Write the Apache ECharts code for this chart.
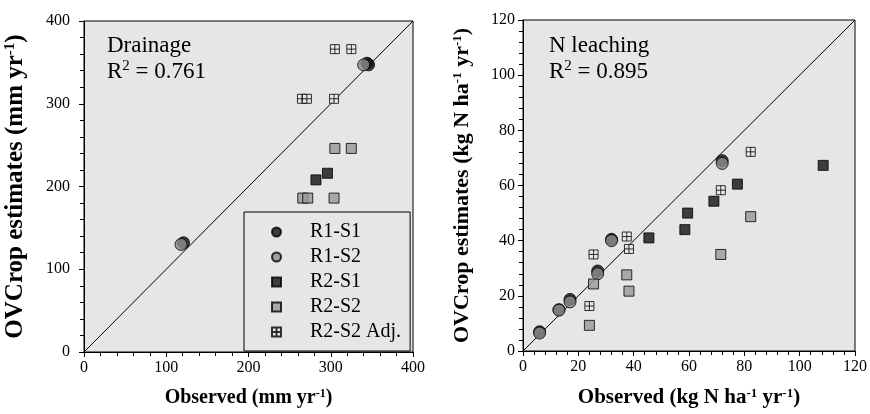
<!DOCTYPE html>
<html><head><meta charset="utf-8">
<script src="https://cdn.jsdelivr.net/npm/echarts@6/dist/echarts.min.js"></script>
<style>html,body{margin:0;padding:0;background:#fff}#c{width:870px;height:414px}</style>
</head><body><div id="c"></div>
<script>
// ---- data ----
const legendNames = ['R1-S1', 'R1-S2', 'R2-S1', 'R2-S2', 'R2-S2 Adj.'];
// Drainage (mm/yr): [observed, OVCrop estimate]
const drainR1S1 = [[344, 349], [346, 347], [121, 132]];
const drainR1S2 = [[340, 347], [118, 130]];
const drainR2S1 = [[282, 208], [296, 216]];
const drainR2S2 = [[305, 246], [325, 246], [266, 186], [272, 186], [304, 186]];
const drainR2S2Adj = [[305, 366], [325, 366], [265, 306], [271, 306], [304, 306]];
const drainOneToOne = [[0, 0], [400, 400]];
// N leaching (kg N/ha/yr)
const nR1S1 = [[6, 7], [13, 15], [17, 18.7], [27, 29], [32, 40.5], [72, 69]];
const nR1S2 = [[6, 6.5], [13, 14.8], [17, 17.8], [27, 28], [32, 40], [72, 68]];
const nR2S1 = [[45.5, 41], [58.5, 44], [59.5, 50], [69, 54.3], [77.5, 60.5], [108.5, 67.3]];
const nR2S2 = [[25.5, 24.3], [24, 9.3], [37.5, 27.6], [38.3, 21.7], [71.5, 35], [82.3, 48.7]];
const nR2S2Adj = [[25.5, 35], [24, 16.3], [37.5, 41.5], [38.3, 37], [71.5, 58.3], [82.3, 72.2]];
const nOneToOne = [[0, 0], [120, 120]];
const drainTicks = {min: 0, max: 400, interval: 100};
const nTicks = {min: 0, max: 120, interval: 20};

// ---- style ----
const FONT = 'Liberation Serif';
const BG = '#e6e6e6';
const ADJ = 'path://M0,0L10,0L10,10L0,10Z M5,0L5,10 M0,5L10,5';
const styles = {
  'R1-S1': {symbol: 'circle', symbolSize: 12, itemStyle: {color: '#111', borderColor: '#000', borderWidth: 1}},
  'R1-S2': {symbol: 'circle', symbolSize: 12, itemStyle: {color: '#8c8c8c', borderColor: '#000', borderWidth: 1}},
  'R2-S1': {symbol: 'rect', symbolSize: 10, itemStyle: {color: '#111', borderColor: '#000', borderWidth: 1}},
  'R2-S2': {symbol: 'rect', symbolSize: 10, itemStyle: {color: '#999', borderColor: '#000', borderWidth: 1}},
  'R2-S2 Adj.': {symbol: ADJ, symbolSize: 9, itemStyle: {color: '#e8e8e8', borderColor: '#000', borderWidth: 1}}
};
const sets = [
  [drainR1S1, drainR1S2, drainR2S1, drainR2S2, drainR2S2Adj],
  [nR1S1, nR1S2, nR2S1, nR2S2, nR2S2Adj]
];
const supRich = (fs, bold) => ({sup: {fontSize: fs, fontFamily: FONT, fontWeight: bold ? 'bold' : 'normal', verticalAlign: 'top', color: '#000'}});

function xAxis(gi, t, name, fs) {
  return {
    gridIndex: gi, type: 'value', min: t.min, max: t.max, interval: t.interval,
    axisLine: {onZero: false, lineStyle: {color: '#000', width: 1}},
    axisTick: {length: 5, lineStyle: {color: '#000'}},
    minorTick: {show: true, splitNumber: 5, length: 4, lineStyle: {color: '#000'}},
    splitLine: {show: false},
    axisLabel: {fontFamily: FONT, fontSize: 16, color: '#000', margin: 8},
    name: name, nameLocation: 'middle', nameGap: 36,
    nameTextStyle: {fontFamily: FONT, fontSize: fs, fontWeight: 'bold', color: '#000', rich: supRich(Math.round(fs * 0.62), true)}
  };
}
function yAxis(gi, t, name, margin, gap, fs) {
  return {
    gridIndex: gi, type: 'value', min: t.min, max: t.max, interval: t.interval,
    axisLine: {onZero: false, lineStyle: {color: '#000', width: 1}},
    axisTick: {length: 5, lineStyle: {color: '#000'}},
    minorTick: {show: true, splitNumber: 5, length: 4, lineStyle: {color: '#000'}},
    splitLine: {show: false},
    axisLabel: {fontFamily: FONT, fontSize: 16, color: '#000', margin: margin},
    name: name, nameLocation: 'middle', nameGap: gap, nameRotate: 90,
    nameTextStyle: {fontFamily: FONT, fontSize: fs, fontWeight: 'bold', color: '#000', rich: supRich(Math.round(fs * 0.6), true)}
  };
}

const series = [];
[drainOneToOne, nOneToOne].forEach((d, gi) => {
  series.push({type: 'line', xAxisIndex: gi, yAxisIndex: gi, data: d, symbol: 'none', silent: true,
    lineStyle: {color: '#000', width: 1}, z: 1});
});
sets.forEach((arrs, gi) => {
  arrs.forEach((d, i) => {
    const n = legendNames[i];
    series.push(Object.assign({type: 'scatter', name: n, xAxisIndex: gi, yAxisIndex: gi, data: d, z: 3}, styles[n]));
  });
});

const chart = echarts.init(document.getElementById('c'), null, {renderer: 'canvas'});
chart.setOption({
  animation: false,
  backgroundColor: '#fff',
  grid: [
    {left: 84, top: 21, width: 329, height: 331, show: true, backgroundColor: BG, borderColor: '#000', borderWidth: 1},
    {left: 523, top: 20, width: 332, height: 331, show: true, backgroundColor: BG, borderColor: '#000', borderWidth: 1}
  ],
  xAxis: [xAxis(0, drainTicks, 'Observed (mm yr{sup|-1})', 20), xAxis(1, nTicks, 'Observed (kg N ha{sup|-1} yr{sup|-1})', 21)],
  yAxis: [yAxis(0, drainTicks, 'OVCrop estimates (mm yr{sup|-1})', 14, 56, 25),
          yAxis(1, nTicks, 'OVCrop estimates (kg N ha{sup|-1} yr{sup|-1})', 8, 50, 22)],
  legend: {
    data: legendNames, orient: 'vertical', left: 244, top: 212,
    padding: [10, 9, 9, 27], itemWidth: 9, itemHeight: 9, itemGap: 5,
    backgroundColor: BG, borderColor: '#000', borderWidth: 1,
    textStyle: {fontFamily: FONT, fontSize: 20, lineHeight: 18, color: '#000', padding: [0, 0, 0, 24]},
    selectedMode: false
  },
  graphic: [
    {type: 'text', left: 107, top: 33, style: {text: 'Drainage\nR{sup|2} = 0.761', fontFamily: FONT, fontSize: 23, lineHeight: 26, fill: '#000',
      rich: {sup: {fontSize: 15, fontFamily: FONT, verticalAlign: 'top', fill: '#000'}}}},
    {type: 'text', left: 549, top: 33, style: {text: 'N leaching\nR{sup|2} = 0.895', fontFamily: FONT, fontSize: 23, lineHeight: 26, fill: '#000',
      rich: {sup: {fontSize: 15, fontFamily: FONT, verticalAlign: 'top', fill: '#000'}}}}
  ],
  series: series
});
</script></body></html>
